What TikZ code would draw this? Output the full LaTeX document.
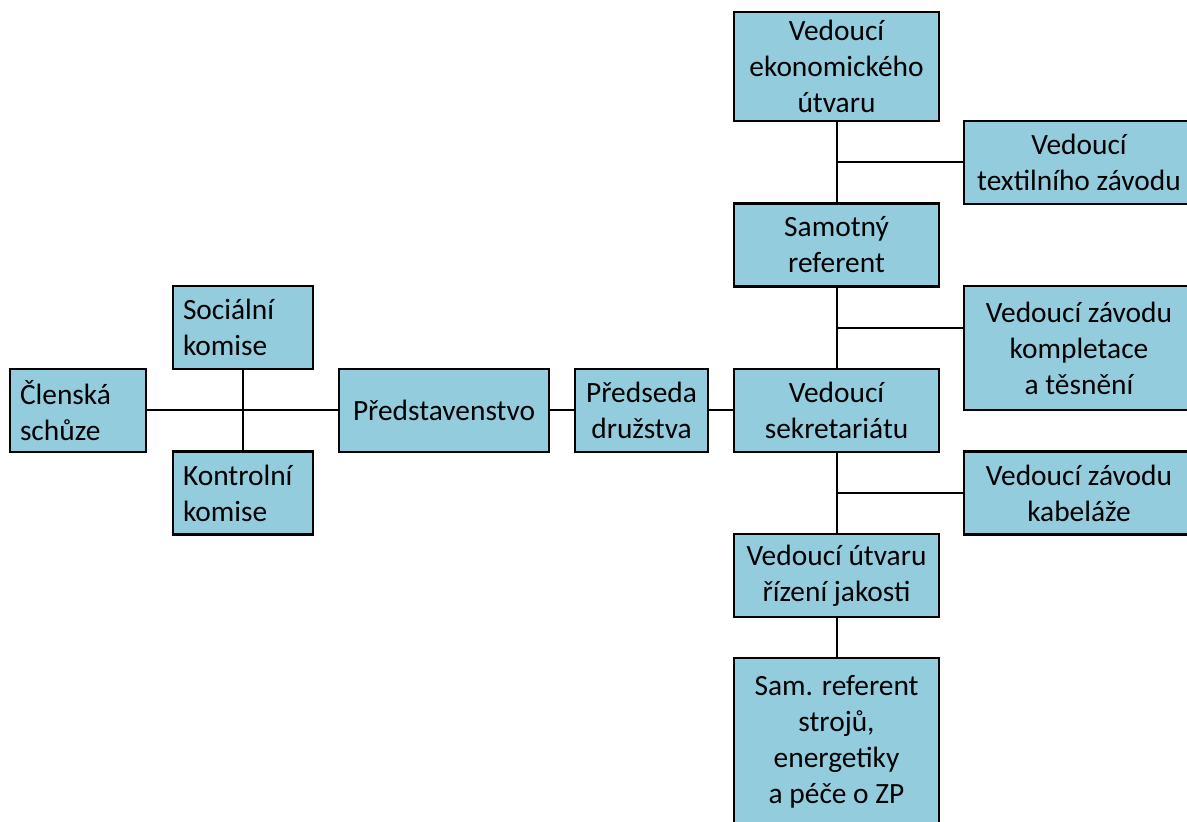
\documentclass[tikz,border=0pt]{standalone}
\usepackage{fontspec}
\setmainfont{Carlito}
\definecolor{boxblue}{HTML}{93CDDD}

\begin{document}
\begin{tikzpicture}[x=0.5pt,y=-0.5pt]
    \fontsize{14.7}{18}\selectfont
    \tikzstyle{box} = [draw, fill=boxblue, line width=1.2pt, align=center,
    inner sep=2pt, minimum height=41.5pt]
    \tikzstyle{lbox} = [box, align=left, inner xsep=5pt]

    \path[use as bounding box, clip] (0,0) rectangle (1187,822);

    \draw[line width=1pt]
    (78,410.5) node [lbox,text width=58pt] (clen) {Členská\\schůze}
    (243,327.5) node [lbox,text width=60pt] (soc) {Sociální\\komise}
    (243,493) node [lbox,text width=60pt] (kontr) {Kontrolní\\komise}
    (444,410.5) node [box,minimum width=105pt] (pred) {Představenstvo}
    (641.5,410.5) node [box,minimum width=66.5pt] (predseda) {Předseda\\družstva}

    (836.5,66.5) node [box,minimum width=102.5pt,minimum height=54.5pt] (ekon) {Vedoucí\\ekonomického\\útvaru}
    (836.5,245) node [box,minimum width=102.5pt] (samref) {Samotný\\referent}
    (836.5,410.5) node [box,minimum width=102.5pt] (sekr) {Vedoucí\\sekretariátu}
    (836.5,575.5) node [box,minimum width=102.5pt] (jakost) {Vedoucí útvaru\\řízení jakosti}
    (836.5,742) node [box,minimum width=102.5pt,minimum height=84pt] (strojref) {Sam. referent\\strojů,\\energetiky\\a péče o ZP}

    (1079,162.5) node [box,minimum width=115pt] (textil) {Vedoucí\\textilního závodu}
    (1079,348) node [box,minimum width=115pt,minimum height=62pt] (kompl) {Vedoucí závodu\\kompletace\\a těsnění}
    (1079,493) node [box,minimum width=115pt] (kabel) {Vedoucí závodu\\kabeláže}

    (836.5,162) coordinate (b1)
    (836.5,328) coordinate (b2)
    (836.5,493) coordinate (b3)

    (clen)--(pred)--(predseda)--(sekr)
    (soc)--(kontr)
    (ekon)--(samref)--(sekr)--(jakost)--(strojref)
    (b1)--(b1 -| textil.west)
    (b2)--(b2 -| kompl.west)
    (b3)--(b3 -| kabel.west)
;

\end{tikzpicture}
\end{document}
